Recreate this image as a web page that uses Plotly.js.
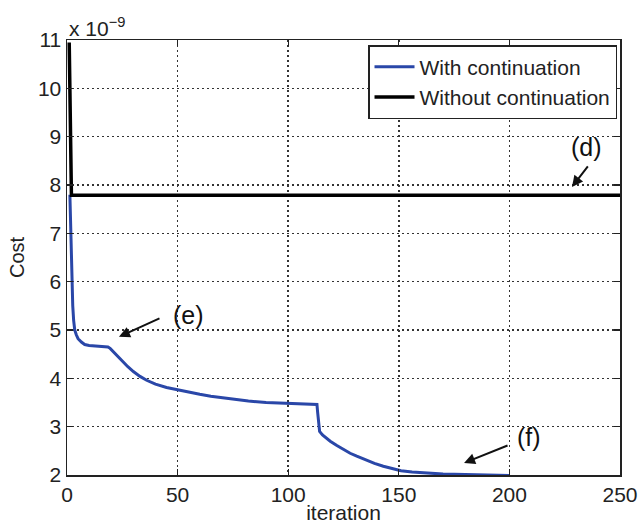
<!DOCTYPE html>
<html>
<head>
<meta charset="utf-8">
<script src="https://cdn.plot.ly/plotly-3.0.1.min.js"></script>
<style>html,body{margin:0;padding:0;background:#fff;}#chart{width:643px;height:531px;}</style>
</head>
<body>
<div id="chart"></div>
<script>
// Data (cost in units of 1e-9)
const withIter = [1.3, 1.6, 1.9, 2.2, 2.6, 3.0, 3.5, 4.2, 5, 6.5, 8, 10, 12, 15, 18.5, 19.5, 21, 23, 25, 27.5, 30, 33, 36, 40, 45, 50, 55, 60, 65, 70, 76, 82, 90, 100, 108, 113, 113.3, 113.7, 114.2, 115.5, 117, 119, 122, 125, 128, 131, 135, 139, 143, 147, 151, 156, 162, 170, 180, 190, 200];
const withCost = [7.8, 7.2, 6.6, 6.0, 5.5, 5.2, 5.0, 4.9, 4.82, 4.75, 4.7, 4.68, 4.67, 4.66, 4.65, 4.62, 4.55, 4.45, 4.35, 4.24, 4.14, 4.04, 3.96, 3.88, 3.81, 3.76, 3.71, 3.67, 3.63, 3.6, 3.56, 3.53, 3.5, 3.48, 3.47, 3.46, 3.3, 3.05, 2.9, 2.83, 2.77, 2.7, 2.61, 2.53, 2.45, 2.39, 2.31, 2.24, 2.18, 2.13, 2.09, 2.06, 2.04, 2.02, 2.01, 2.0, 1.99];
const withoutIter = [1, 2, 250];
const withoutCost = [10.95, 7.79, 7.79];
const xTicks = [0, 50, 100, 150, 200, 250];
const yTicks = [2, 3, 4, 5, 6, 7, 8, 9, 10, 11];
const seriesNames = ['With continuation', 'Without continuation'];

const font = 'Liberation Sans, Arial, Helvetica, sans-serif';

const traces = [
  {x: withIter, y: withCost, mode: 'lines', name: seriesNames[0],
   line: {color: '#2a47a8', width: 3}},
  {x: withoutIter, y: withoutCost, mode: 'lines', name: seriesNames[1],
   line: {color: '#000000', width: 3.5}}
];

const axisCommon = {
  showline: true, linecolor: '#222', linewidth: 1.5, mirror: 'ticks',
  ticks: 'inside', ticklen: 6, tickcolor: '#222', tickwidth: 1.3,
  showgrid: true, gridcolor: '#333', griddash: '2px,3px', gridwidth: 1.5,
  zeroline: false, tickfont: {family: font, size: 21, color: '#222'}
};

const layout = {
  width: 643, height: 531,
  margin: {l: 67, r: 23, t: 40, b: 56},
  paper_bgcolor: '#fff', plot_bgcolor: '#fff',
  font: {family: font, color: '#222'},
  showlegend: true,
  legend: {x: 0.9946, y: 0.9885, xanchor: 'right', yanchor: 'top',
    bordercolor: '#222', borderwidth: 1.5, bgcolor: '#fff',
    font: {family: font, size: 21, color: '#222'}, itemwidth: 40,
    tracegroupgap: 0},
  xaxis: Object.assign({}, axisCommon, {
    range: [0, 250], tickvals: xTicks, ticktext: xTicks.map(String),
    title: {text: 'iteration', font: {family: font, size: 21, color: '#222'}, standoff: 0}
  }),
  yaxis: Object.assign({}, axisCommon, {
    range: [2, 11], tickvals: yTicks, ticktext: yTicks.map(String),
    title: {text: 'Cost', font: {family: font, size: 20, color: '#222'}, standoff: 8}
  }),
  annotations: [
    {xref: 'paper', yref: 'paper', x: 0.0, y: 1.0, xanchor: 'left', yanchor: 'bottom',
     text: 'x 10<sup>\u22129</sup>', showarrow: false, yshift: -2,
     font: {family: font, size: 21, color: '#222'}},
    {x: 228.3, y: 7.96, text: '', showarrow: true, ax: 17, ay: -22,
     arrowhead: 2, arrowsize: 1.1, arrowwidth: 2, arrowcolor: '#111'},
    {x: 235, y: 8.79, text: '(d)', showarrow: false,
     font: {family: font, size: 25, color: '#111'}},
    {x: 23.5, y: 4.86, text: '', showarrow: true, ax: 42, ay: -19,
     arrowhead: 2, arrowsize: 1.1, arrowwidth: 2, arrowcolor: '#111'},
    {x: 55, y: 5.31, text: '(e)', showarrow: false,
     font: {family: font, size: 25, color: '#111'}},
    {x: 179.5, y: 2.25, text: '', showarrow: true, ax: 45, ay: -18,
     arrowhead: 2, arrowsize: 1.1, arrowwidth: 2, arrowcolor: '#111'},
    {x: 209, y: 2.79, text: '(f)', showarrow: false,
     font: {family: font, size: 25, color: '#111'}}
  ]
};

Plotly.newPlot('chart', traces, layout, {displayModeBar: false, staticPlot: true});
</script>
</body>
</html>
